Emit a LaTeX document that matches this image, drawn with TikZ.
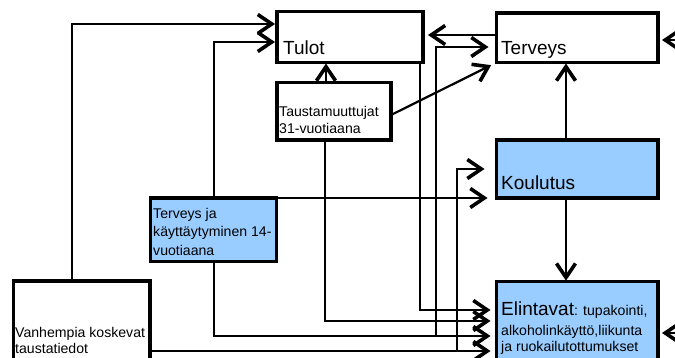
\documentclass[tikz,border=0pt]{standalone}
\usepackage{fontspec}
\setmainfont{Liberation Sans}
\usetikzlibrary{arrows.meta,calc}
\definecolor{lblue}{HTML}{99CCFF}
\tikzset{
 box/.style={draw, line width=3.3pt, inner sep=0pt, outer sep=0pt, anchor=center},
 arr/.style={line width=2.2pt, -{Straight Barb[length=14pt,width=19pt,line width=3.6pt,sharp]}},
 big/.style={font=\fontsize{19}{22}\selectfont, anchor=base west, inner sep=0pt},
 small/.style={font=\fontsize{14.1}{17}\selectfont, anchor=base west, inner sep=0pt},
}
\begin{document}
\begin{tikzpicture}[x=1pt,y=-1pt]
\useasboundingbox (0,0) rectangle (675,358);
% boxes
\node[box, minimum width=146pt, minimum height=50.8pt] (tulot) at (350,37.1) {};
\node[box, minimum width=161.5pt, minimum height=49.5pt] (terv) at (577.25,37.75) {};
\node[box, minimum width=114pt, minimum height=57.5pt] (taust) at (334,111.25) {};
\node[box, fill=lblue, minimum width=161.5pt, minimum height=58pt] (koul) at (577.25,169) {};
\node[box, fill=lblue, minimum width=126pt, minimum height=63.5pt] (tervja) at (213.5,229.75) {};
\node[box, minimum width=136.7pt, minimum height=99pt] (vanh) at (81.65,330.5) {};
\node[box, fill=lblue, minimum width=161.5pt, minimum height=98.3pt] (elin) at (577.25,330.85) {};
% texts
\node[big] (tTulot) at (283,55) {Tulot};
\node[big] (tTerv) at (501,55) {Terveys};
\node[big] (tKoul) at (501,190) {Koulutus};
\node[small] (tTa1) at (279,117) {Taustamuuttujat};
\node[small] (tTa2) at (279,134) {31-vuotiaana};
\node[small] (tTj1) at (153,219) {Terveys ja};
\node[small] (tTj2) at (153,237) {käyttäytyminen 14-};
\node[small] (tTj3) at (153,255) {vuotiaana};
\node[small] (tVa1) at (15,337) {Vanhempia koskevat};
\node[small] (tVa2) at (15,353) {taustatiedot};
\node[big] (tEl1) at (501,315) {Elintavat\fontsize{14.1}{17}\selectfont: tupakointi,};
\node[small] (tEl2) at (501,335.7) {alkoholinkäyttö,liikunta};
\node[small] (tEl3) at (501,351.7) {ja ruokailutottumukset};
% connectors
\coordinate (jC) at (436,336);
\coordinate (jD) at (457,351);
\coordinate (r1) at (700,40);
\coordinate (r2) at (700,333);
\draw[arr, shorten >=2pt] (vanh.north -| 72,0) |- (tulot.west |- 0,24);
\draw[arr, shorten >=2pt] (tervja.north -| 214,0) |- (tulot.west |- 0,42);
\draw[arr, shorten >=6pt] (tervja.south -| 214,0) |- (elin.west |- 0,336);
\draw[arr, shorten >=6pt] (vanh.east |- 0,351) -- (elin.west |- 0,351);
\draw[arr, shorten >=6pt] (taust.south -| 325,0) |- (elin.west |- 0,321);
\draw[arr, shorten >=1pt] (taust.north -| 326,0) -- (tulot.south -| 326,0);
\draw[arr, shorten >=6pt] (taust.east |- 0,115) -- (terv.south west);
\draw[arr, shorten >=5pt] (terv.west |- 0,35) -- (tulot.east |- 0,35);
\draw[arr, shorten >=6pt] (tulot.south -| 420,0) |- (elin.west |- 0,310);
\draw[arr, shorten >=8pt] (jC) |- (terv.west |- 0,47);
\draw[arr, shorten >=12pt] (jD) |- (koul.west |- 0,169);
\draw[arr, shorten >=9pt] (tervja.north east) -- (koul.south west);
\draw[arr, shorten >=1pt] (koul.north -| 566,0) -- (terv.south -| 566,0);
\draw[arr, shorten >=1pt] (koul.south -| 566,0) -- (elin.north -| 566,0);
\draw[arr, shorten >=4pt] (r1) -- (terv.east |- r1);
\draw[arr, shorten >=4pt] (r2) -- (elin.east |- r2);
\end{tikzpicture}
\end{document}
